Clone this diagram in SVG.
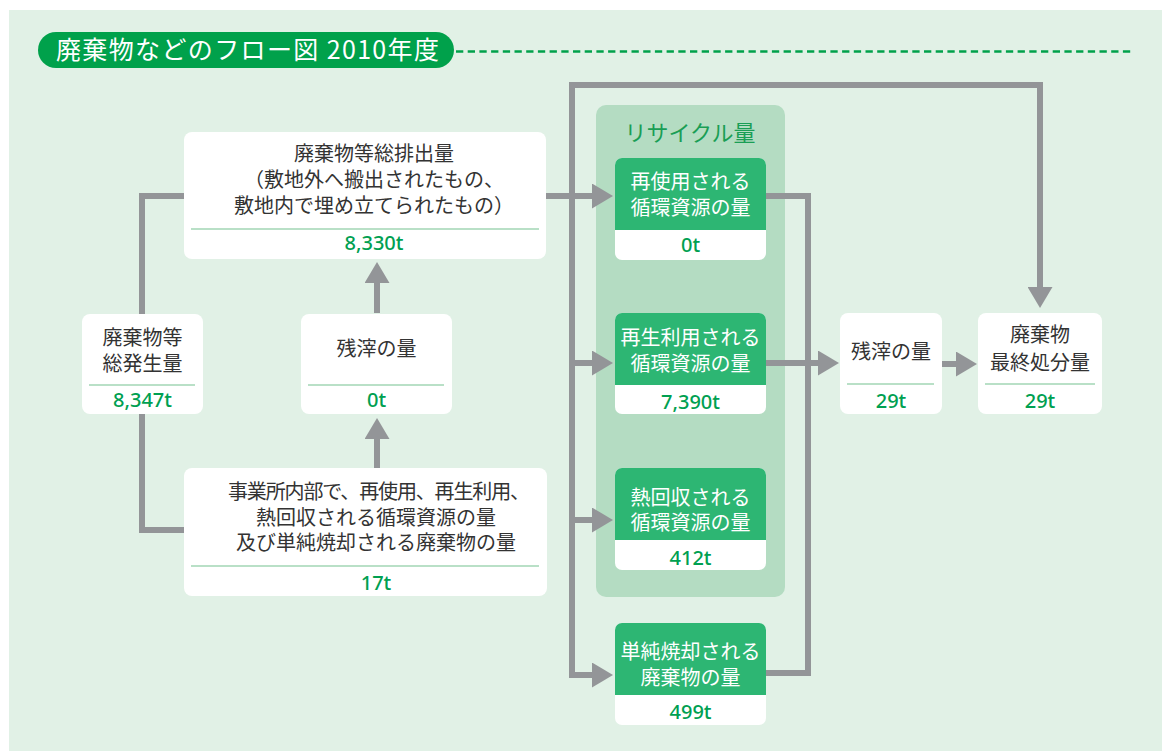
<svg xmlns="http://www.w3.org/2000/svg" width="1162" height="751" viewBox="0 0 1162 751">
<style>
.jp{font-family:"Noto Sans CJK JP","Noto Sans",sans-serif;font-size:20px;fill:#333;text-anchor:middle}
.wt{fill:#fff}
.val{font-family:"Noto Sans","Noto Sans CJK JP",sans-serif;font-size:20px;font-weight:500;fill:#00a051;text-anchor:middle}
.box{fill:#fff}
.sep{stroke:#b9e0c7;stroke-width:2}
.gr{fill:#2db673}
.cn{fill:none;stroke:#939598;stroke-width:6;stroke-linejoin:miter}
.ar{marker-end:url(#ah)}
</style>
<defs>
<marker id="ah" markerUnits="userSpaceOnUse" markerWidth="22" markerHeight="25" refX="6" refY="12.5" orient="auto">
<path d="M0,0 L21,12.5 L0,25 z" fill="#939598"/>
</marker>
</defs>
<rect x="9" y="10" width="1153" height="741" fill="#e1f1e6"/>
<g id="title">
<rect x="38" y="32" width="416" height="36" rx="18" fill="#00a14b"/>
<text x="56" y="59" font-family="'Noto Sans CJK JP','Noto Sans',sans-serif" font-size="25" fill="#fff" textLength="383" lengthAdjust="spacing">廃棄物などのフロー図 2010年度</text>
<line x1="456" y1="51.5" x2="1131" y2="51.5" stroke="#00a14b" stroke-width="2.5" stroke-dasharray="7.3 4.4"/>
</g>
<g id="recycle-group">
<rect x="596" y="105" width="189" height="492" rx="10" fill="#b4dcc2"/>
<text x="690" y="141" font-family="'Noto Sans CJK JP','Noto Sans',sans-serif" font-size="22" fill="#1a9e55" text-anchor="middle">リサイクル量</text>
</g>
<g id="connectors">
<path class="cn" d="M142,314 V196 H184"/>
<path class="cn" d="M142,414 V530 H184"/>
<path class="cn ar" d="M377,313 V277"/>
<path class="cn ar" d="M377,468 V433"/>
<path class="cn ar" d="M546,196 H598"/>
<path class="cn ar" d="M598,675 H572 V85 H1040 V293"/>
<path class="cn ar" d="M572,675 H598"/>
<path class="cn ar" d="M572,363 H598"/>
<path class="cn ar" d="M572,520 H598"/>
<path class="cn" d="M766,196 H808 V673 H766"/>
<path class="cn ar" d="M766,363 H824"/>
<path class="cn ar" d="M942,364 H962"/>
</g>
<g id="total-generated">
<rect class="box" x="82" y="314" width="121" height="100" rx="8"/>
<text class="jp" x="142.5" y="345">廃棄物等</text>
<text class="jp" x="142.5" y="371">総発生量</text>
<line class="sep" x1="89" y1="385" x2="195" y2="385"/>
<text class="val" x="142.5" y="407">8,347t</text>
</g>
<g id="total-discharged">
<rect class="box" x="184" y="132" width="362" height="127" rx="8"/>
<text class="jp" x="374" y="161">廃棄物等総排出量</text>
<text class="jp" x="374" y="187">（敷地外へ搬出されたもの、</text>
<text class="jp" x="374" y="213">敷地内で埋め立てられたもの）</text>
<line class="sep" x1="191" y1="229" x2="539" y2="229"/>
<text class="val" x="374" y="250">8,330t</text>
</g>
<g id="residue-left">
<rect class="box" x="301" y="314" width="151" height="100" rx="8"/>
<text class="jp" x="376.5" y="356">残滓の量</text>
<line class="sep" x1="308" y1="385" x2="444" y2="385"/>
<text class="val" x="376.5" y="407">0t</text>
</g>
<g id="internal">
<rect class="box" x="184" y="468" width="363" height="128" rx="8"/>
<text class="jp" x="379" y="499" textLength="302" lengthAdjust="spacing">事業所内部で、再使用、再生利用、</text>
<text class="jp" x="376" y="525">熱回収される循環資源の量</text>
<text class="jp" x="376" y="550">及び単純焼却される廃棄物の量</text>
<line class="sep" x1="191" y1="566" x2="539" y2="566"/>
<text class="val" x="376" y="590">17t</text>
</g>
<g id="reuse">
<rect class="box" x="615" y="158" width="151" height="102" rx="7"/>
<path class="gr" d="M615,165 a7,7 0 0 1 7,-7 h137 a7,7 0 0 1 7,7 v65 h-151 z"/>
<text class="jp wt" x="690.5" y="189">再使用される</text>
<text class="jp wt" x="690.5" y="215">循環資源の量</text>
<text class="val" x="690.5" y="252">0t</text>
</g>
<g id="recycle">
<rect class="box" x="615" y="313" width="151" height="101" rx="7"/>
<path class="gr" d="M615,320 a7,7 0 0 1 7,-7 h137 a7,7 0 0 1 7,7 v65 h-151 z"/>
<text class="jp wt" x="690.5" y="345">再生利用される</text>
<text class="jp wt" x="690.5" y="371">循環資源の量</text>
<text class="val" x="690.5" y="409">7,390t</text>
</g>
<g id="heat-recovery">
<rect class="box" x="615" y="468" width="151" height="102" rx="7"/>
<path class="gr" d="M615,475 a7,7 0 0 1 7,-7 h137 a7,7 0 0 1 7,7 v65 h-151 z"/>
<text class="jp wt" x="690.5" y="505">熱回収される</text>
<text class="jp wt" x="690.5" y="530">循環資源の量</text>
<text class="val" x="690.5" y="565">412t</text>
</g>
<g id="incineration">
<rect class="box" x="615" y="623" width="151" height="102" rx="7"/>
<path class="gr" d="M615,630 a7,7 0 0 1 7,-7 h137 a7,7 0 0 1 7,7 v65 h-151 z"/>
<text class="jp wt" x="690.5" y="659">単純焼却される</text>
<text class="jp wt" x="690.5" y="685">廃棄物の量</text>
<text class="val" x="690.5" y="719">499t</text>
</g>
<g id="residue-right">
<rect class="box" x="840" y="313" width="102" height="101" rx="8"/>
<text class="jp" x="891" y="359">残滓の量</text>
<line class="sep" x1="847" y1="384" x2="934" y2="384"/>
<text class="val" x="891" y="408">29t</text>
</g>
<g id="final-disposal">
<rect class="box" x="978" y="313" width="124" height="101" rx="8"/>
<text class="jp" x="1040" y="342">廃棄物</text>
<text class="jp" x="1040" y="370">最終処分量</text>
<line class="sep" x1="985" y1="384" x2="1095" y2="384"/>
<text class="val" x="1040" y="408">29t</text>
</g>
</svg>
